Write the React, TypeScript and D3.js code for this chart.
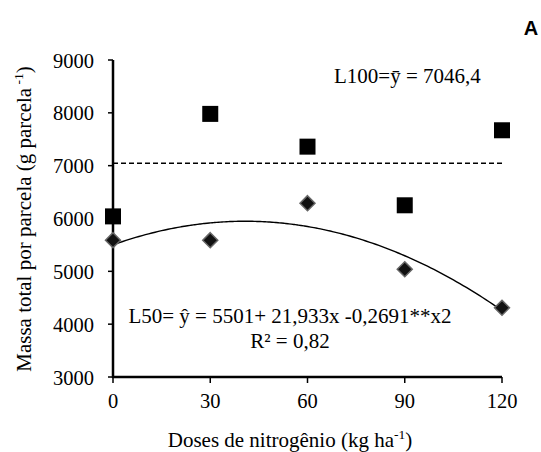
import React from "react";
import * as d3 from "d3";

const doses = [0, 30, 60, 90, 120];
const l100 = [6040, 7980, 7360, 6250, 7670];
const l50 = [5590, 5590, 6290, 5040, 4310];
const l100Mean = 7046.4;
const fitCoef = [5501, 21.933, -0.2691];
const yTicks = [3000, 4000, 5000, 6000, 7000, 8000, 9000];
const xTicks = [0, 30, 60, 90, 120];

const W = 541;
const H = 452;
const left = 113;
const right = 502;
const top = 60;
const bottom = 377;

const serif = "Liberation Serif";

export default function App() {
  const x = d3.scaleLinear().domain([0, 120]).range([left, right]);
  const y = d3.scaleLinear().domain([3000, 9000]).range([bottom, top]);
  const curveX = d3.range(0, 120.5, 1);
  const line = d3
    .line<number>()
    .x((d) => x(d))
    .y((d) => y(fitCoef[0] + fitCoef[1] * d + fitCoef[2] * d * d))
    .curve(d3.curveMonotoneX);
  const tickFs = 20.5;
  const annFs = 21;
  const titleFs = 21;
  const sq = 16;
  const dm = 7.5;
  const ts = { fontFamily: serif };
  return (
    <svg
      width={W}
      height={H}
      style={{ position: "absolute", left: 0, top: 0, background: "#fff", fontFamily: serif }}
    >
      <rect x={0} y={0} width={W} height={H} fill="#fff" />
      <line
        x1={x(0)}
        x2={x(120)}
        y1={y(l100Mean)}
        y2={y(l100Mean)}
        stroke="#000"
        strokeWidth={1.6}
        strokeDasharray="5,3"
      />
      <path d={line(curveX) || ""} fill="none" stroke="#000" strokeWidth={1.4} />
      <line x1={left} x2={left} y1={top} y2={bottom + 1} stroke="#000" strokeWidth={2.5} />
      <line x1={left - 1} x2={right} y1={bottom} y2={bottom} stroke="#000" strokeWidth={2.5} />
      {yTicks.map((t) => (
        <g key={"y" + t}>
          <line x1={left - 5} x2={left} y1={y(t)} y2={y(t)} stroke="#000" strokeWidth={1.5} />
          <text x={94} y={y(t) + 7.5} textAnchor="end" fontSize={tickFs} style={ts}>
            {t}
          </text>
        </g>
      ))}
      {xTicks.map((t) => (
        <g key={"x" + t}>
          <line x1={x(t)} x2={x(t)} y1={bottom} y2={bottom + 6} stroke="#000" strokeWidth={1.5} />
          <text x={x(t)} y={408} textAnchor="middle" fontSize={tickFs} style={ts}>
            {t}
          </text>
        </g>
      ))}
      {doses.map((d, i) => (
        <path
          key={"d" + i}
          d={`M${x(d)},${y(l50[i]) - dm} L${x(d) + dm},${y(l50[i])} L${x(d)},${y(l50[i]) + dm} L${x(d) - dm},${y(l50[i])} Z`}
          fill="#111"
          stroke="#666"
          strokeWidth={1.5}
        />
      ))}
      {doses.map((d, i) => (
        <rect
          key={"s" + i}
          x={x(d) - sq / 2}
          y={y(l100[i]) - sq / 2}
          width={sq}
          height={sq}
          fill="#000"
        />
      ))}
      <text x={334} y={83} fontSize={annFs} style={ts}>
        L100=ȳ = 7046,4
      </text>
      <text x={290} y={323} textAnchor="middle" fontSize={annFs} style={ts}>
        L50= ŷ = 5501+ 21,933x -0,2691**x2
      </text>
      <text x={290} y={348} textAnchor="middle" fontSize={annFs} style={ts}>
        R² = 0,82
      </text>
      <text x={290} y={447} textAnchor="middle" fontSize={titleFs} style={ts}>
        Doses de nitrogênio (kg ha
        <tspan dy={-8} fontSize={13.5}>-1</tspan>
        <tspan dy={8}>)</tspan>
      </text>
      <text
        transform={`translate(31,219) rotate(-90)`}
        textAnchor="middle"
        fontSize={titleFs}
        style={ts}
      >
        Massa total por parcela (g parcela
        <tspan dy={-8} fontSize={13.5}> -1</tspan>
        <tspan dy={8}>)</tspan>
      </text>
      <text
        x={531}
        y={35}
        textAnchor="middle"
        fontSize={20}
        fontWeight="bold"
        style={{ fontFamily: "Liberation Sans" }}
      >
        A
      </text>
    </svg>
  );
}
